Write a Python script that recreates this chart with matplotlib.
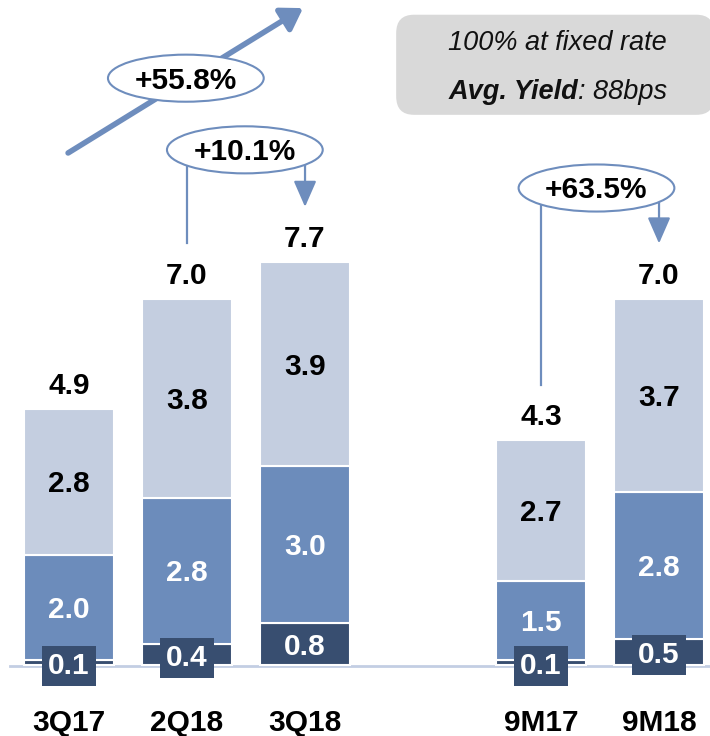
import matplotlib
matplotlib.use('Agg')
import matplotlib.pyplot as plt
from matplotlib.patches import Ellipse, FancyBboxPatch

plt.rcParams['font.family'] = ['Liberation Sans', 'DejaVu Sans']

# ---------- data ----------
categories = ['3Q17', '2Q18', '3Q18', '9M17', '9M18']
positions = [0, 1, 2, 4, 5]
seg_bottom = [0.1, 0.4, 0.8, 0.1, 0.5]
seg_middle = [2.0, 2.8, 3.0, 1.5, 2.8]
seg_top = [2.8, 3.8, 3.9, 2.7, 3.7]
totals = [4.9, 7.0, 7.7, 4.3, 7.0]

growth = [('+55.8%', 0, 2), ('+10.1%', 1, 2), ('+63.5%', 3, 4)]
note_line1 = '100% at fixed rate'
note_bold = 'Avg. Yield'
note_rest = ': 88bps'

# ---------- style ----------
c_dark = '#384E70'
c_mid = '#6C8CBB'
c_light = '#C4CEE0'
c_arrow = '#6E8DBD'
c_base = '#C3CEE3'
fs = 21.5
half_cap = 0.2   # half of the cap height, in data units

fig = plt.figure(figsize=(7.10, 7.36), dpi=100)
ax = fig.add_axes([0, 0, 1, 1])
ax.set_xlim(-0.585, 5.432)
ax.set_ylim(-1.358, 12.715)
ax.axis('off')

width = 0.755
layers = [(seg_bottom, c_dark, 'white'),
          (seg_middle, c_mid, 'white'),
          (seg_top, c_light, 'black')]

bottoms = [0.0] * len(categories)
for vals, col, tcol in layers:
    ax.bar(positions, vals, width=width, bottom=bottoms, color=col,
           edgecolor='white', linewidth=1.5, zorder=2)
    for i, v in enumerate(vals):
        mid = bottoms[i] + v / 2
        if v < 0.6:
            # thin segment: label sits in its own dark box
            ax.text(positions[i], mid - half_cap - 0.02, f'{v:.1f}', ha='center',
                    va='baseline', fontsize=fs, fontweight='bold', color='white', zorder=5,
                    bbox=dict(boxstyle='square,pad=0.2', fc=c_dark, ec='none'))
        else:
            ax.text(positions[i], mid - half_cap, f'{v:.1f}', ha='center', va='baseline',
                    fontsize=fs, fontweight='bold', color=tcol, zorder=5)
    bottoms = [b + v for b, v in zip(bottoms, vals)]

# baseline
ax.axhline(-0.02, xmin=0.014, xmax=1, color=c_base, lw=2, zorder=1)

# totals and category labels
for p, t, c in zip(positions, totals, categories):
    ax.text(p, t + 0.29, f'{t:.1f}', ha='center', va='baseline',
            fontsize=fs, fontweight='bold', color='black')
    ax.text(p, -1.262, c, ha='center', va='baseline',
            fontsize=fs, fontweight='bold', color='black')

# ---------- growth annotations ----------
# big diagonal arrow, 3Q17 -> 3Q18
ax.annotate('', xy=(1.983, 12.56), xytext=(-0.008, 9.79),
            arrowprops=dict(arrowstyle='-|>,head_length=0.7,head_width=0.45',
                            color=c_arrow, lw=4, shrinkA=0, shrinkB=0,
                            mutation_scale=18), zorder=3)

ell_pos = {'+55.8%': (0.99, 11.22), '+10.1%': (1.49, 9.85), '+63.5%': (4.47, 9.12)}

for label, a, b in growth:
    ex, ey = ell_pos[label]
    if label != '+55.8%':
        xa, xb = positions[a], positions[b]
        ax.plot([xa, xa], [ey, totals[a] + 1.06], color=c_arrow, lw=1.6, zorder=3)
        ax.annotate('', xy=(xb, totals[b] + 1.06), xytext=(xb, ey),
                    arrowprops=dict(arrowstyle='-|>,head_length=0.8,head_width=0.35',
                                    color=c_arrow, lw=1.6, shrinkA=0, shrinkB=0,
                                    mutation_scale=20), zorder=3)
    ax.add_patch(Ellipse((ex, ey), 1.32, 0.9, facecolor='white',
                         edgecolor=c_arrow, lw=1.5, zorder=4))
    ax.text(ex, ey - half_cap, label, ha='center', va='baseline',
            fontsize=fs, fontweight='bold', color='black', zorder=5)

# ---------- note box ----------
ax.add_patch(FancyBboxPatch((0.572, 0.858), 0.42, 0.108,
                            boxstyle='round,pad=0.014,rounding_size=0.025',
                            transform=ax.transAxes, fc='#D9D9D9', ec='none', zorder=1))
ax.text(557 / 710, 1 - 50 / 736, note_line1, transform=ax.transAxes,
        ha='center', va='baseline', fontsize=19.5, style='italic', color='#111111')
t1 = ax.text(578 / 710, 1 - 99 / 736, note_bold, transform=ax.transAxes,
             ha='right', va='baseline', fontsize=19.5, style='italic',
             fontweight='bold', color='#111111')
ax.annotate(note_rest, xy=(1, 0), xycoords=t1, ha='left', va='bottom',
            fontsize=19.5, style='italic', color='#111111')

fig.savefig('out.png', dpi=100)
